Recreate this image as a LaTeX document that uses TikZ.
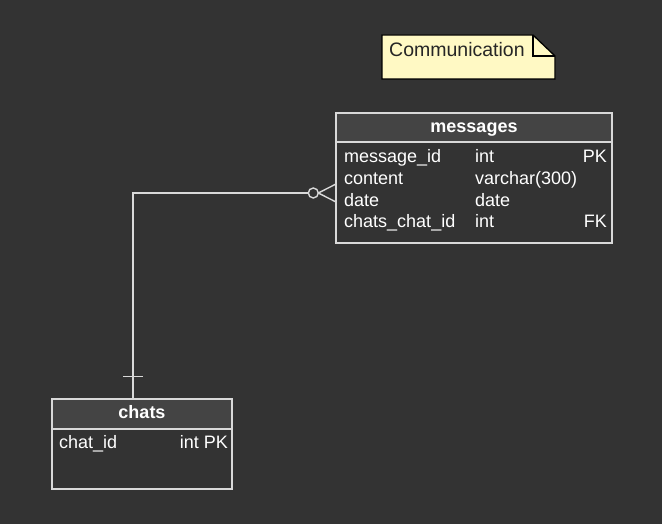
\documentclass[tikz,border=0pt]{standalone}
\usepackage{fontspec}
\setmainfont{Liberation Sans}
\definecolor{bg}{HTML}{333333}
\definecolor{hdr}{HTML}{444444}
\definecolor{ln}{HTML}{D9D9D9}
\definecolor{notefill}{HTML}{FFF9C4}
\begin{document}
\begin{tikzpicture}[x=1pt,y=-1pt,
  txt/.style={inner sep=0pt,text=white,font=\fontsize{18}{20}\selectfont},
  hdrtxt/.style={txt,font=\fontsize{18}{20}\selectfont\bfseries},
  tbl/.style={draw=ln,line width=1.4pt},
  conn/.style={draw=ln,line width=1.4pt}]
\useasboundingbox[fill=bg] (0,0) rectangle (662,524);
% note
\draw[fill=notefill,draw=black,line width=1.3pt] (382,35) -- (533,35) -- (555,56) -- (555,79) -- (382,79) -- cycle;
\draw[draw=black,line width=1.3pt] (533,35) -- (533,56) -- (555,56);
\node[inner sep=0pt,anchor=base west,font=\fontsize{19.5}{22}\selectfont,text=black!85] (note) at (389,57) {Communication};
% messages table
\fill[hdr] (336,113) rectangle (612,142);
\draw[tbl] (336,113) rectangle (612,243);
\draw[tbl] (336,142) -- (612,142);
\node[hdrtxt,anchor=base] (mh) at (474,133) {messages};
\node[txt,anchor=base west] (m1) at (344,163) {message\_id};
\node[txt,anchor=base west] (m1t) at (475,163) {int};
\node[txt,anchor=base east] (m1k) at (607,163) {PK};
\node[txt,anchor=base west] (m2) at (344,185) {content};
\node[txt,anchor=base west] (m2t) at (475,185) {varchar(300)};
\node[txt,anchor=base west] (m3) at (344,207) {date};
\node[txt,anchor=base west] (m3t) at (475,207) {date};
\node[txt,anchor=base west] (m4) at (344,228) {chats\_chat\_id};
\node[txt,anchor=base west] (m4t) at (475,228) {int};
\node[txt,anchor=base east] (m4k) at (607,228) {FK};
% chats table
\fill[hdr] (52,399) rectangle (232,429);
\draw[tbl] (52,399) rectangle (232,489);
\draw[tbl] (52,429) -- (232,429);
\node[hdrtxt,anchor=base] (ch) at (142,418) {chats};
\node[txt,anchor=base west] (c1) at (59,448) {chat\_id};
\node[txt,anchor=base east] (c1k) at (228,448) {int PK};
% connector
\coordinate (cs) at (133,399);
\coordinate (cbend) at (133,193);
\coordinate (ccirc) at (308.3,193);
\draw[conn] (cs) -- (cbend) -- (ccirc);
\draw[conn] (313.3,193) circle (5);
\draw[conn] (318.3,193) -- (336,184);
\draw[conn] (318.3,193) -- (336,202);
\draw[conn] (123,376.5) -- (143,376.5);
\end{tikzpicture}
\end{document}
